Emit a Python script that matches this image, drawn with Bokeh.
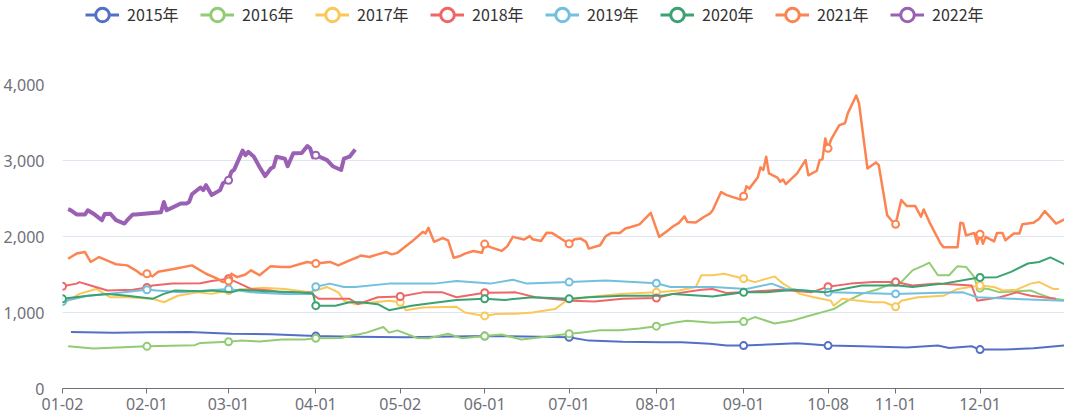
import datetime
from bokeh.plotting import figure
from bokeh.layouts import column
from bokeh.models import (Range1d, FixedTicker, NumeralTickFormatter, Legend,
                          LegendItem, ColumnDataSource)
from bokeh.embed import file_html
from bokeh.resources import INLINE

# ---------------- categories (MM-DD of the union of trading days) -------------
_d = datetime.date(2016, 1, 2)
CATEGORIES = []
while _d <= datetime.date(2016, 12, 31):
    _s = _d.strftime("%m-%d")
    if _s != "05-01" and not ("10-01" <= _s <= "10-07"):
        CATEGORIES.append(_s)
    _d += datetime.timedelta(days=1)
CAT_INDEX = {c: i for i, c in enumerate(CATEGORIES)}

TICK_LABELS = ["01-02", "02-01", "03-01", "04-01", "05-02", "06-01",
               "07-01", "08-01", "09-01", "10-08", "11-01", "12-01"]

YEARS = ["2015年", "2016年", "2017年", "2018年", "2019年", "2020年", "2021年", "2022年"]
COLORS = ["#5470c6", "#91cc75", "#fac858", "#ee6666", "#73c0de", "#3ba272", "#fc8452", "#9a60b4"]

# ---------------- series data ----------------
s2015_dates = ["01-05", "01-20", "02-02", "02-16", "03-02", "03-16", "04-01", "04-15", "05-04",
               "06-01", "06-15", "07-01", "07-08", "07-20", "08-03", "08-10", "08-20", "08-26",
               "09-01", "09-20", "10-08", "10-20", "11-05", "11-16", "11-20", "11-28", "12-01",
               "12-10", "12-20", "12-31"]
s2015_vals = [745, 735, 740, 745, 720, 715, 690, 680, 675,
              690, 685, 675, 630, 615, 610, 610, 590, 565,
              565, 595, 565, 555, 540, 565, 533, 556, 512,
              512, 530, 565]

s2016_dates = ["01-04", "01-13", "02-01", "02-18", "02-20", "03-01", "03-05", "03-12", "03-20",
               "03-28", "04-01", "04-10", "04-14", "04-16", "04-19", "04-25", "04-27", "04-30",
               "05-08", "05-12", "05-19", "05-24", "06-01", "06-07", "06-14", "06-21", "07-01",
               "07-05", "07-12", "07-19", "07-26", "08-01", "08-07", "08-12", "08-21", "09-01",
               "09-05", "09-12", "09-18", "09-24", "09-30", "10-10", "10-15", "10-20", "10-26",
               "11-01", "11-03", "11-07", "11-11", "11-13", "11-16", "11-20", "11-23", "11-26",
               "11-29", "11-30", "12-01", "12-04", "12-08", "12-19", "12-22", "12-27", "12-31"]
s2016_vals = [555, 525, 555, 570, 600, 615, 630, 620, 645,
              645, 660, 665, 700, 710, 735, 810, 735, 765,
              665, 660, 720, 660, 690, 710, 645, 675, 720,
              735, 765, 765, 790, 820, 865, 890, 865, 880,
              940, 855, 890, 955, 1015, 1045, 1155, 1245, 1310,
              1400, 1400, 1555, 1620, 1655, 1490, 1490, 1610, 1600,
              1465, 1335, 1320, 1310, 1265, 1290, 1245, 1180, 1165]

s2017_dates = ["01-03", "01-08", "01-14", "01-19", "01-25", "02-03", "02-07", "02-12", "02-19",
               "02-24", "03-01", "03-13", "03-21", "03-30", "04-05", "04-09", "04-11", "04-15",
               "04-27", "05-02", "05-04", "05-10", "05-22", "05-25", "06-01", "06-05", "06-12",
               "06-18", "06-26", "06-30", "07-07", "07-19", "08-01", "08-09", "08-15", "08-17",
               "08-21", "08-25", "08-30", "09-01", "09-05", "09-12", "09-15", "09-21", "09-26",
               "10-09", "10-10", "10-13", "10-19", "10-24", "10-28", "11-01", "11-03", "11-09",
               "11-18", "11-23", "12-01", "12-06", "12-09", "12-14", "12-19", "12-22", "12-27",
               "12-29"]
s2017_vals = [1135, 1245, 1310, 1200, 1200, 1180, 1135, 1220, 1265,
              1245, 1290, 1325, 1310, 1265, 1335, 1265, 1155, 1110,
              1155, 1135, 1030, 1065, 1075, 1000, 955, 980, 985,
              1000, 1045, 1155, 1200, 1245, 1265, 1290, 1335, 1490,
              1490, 1510, 1465, 1445, 1400, 1475, 1380, 1245, 1200,
              1155, 1090, 1180, 1155, 1135, 1135, 1075, 1155, 1200,
              1220, 1310, 1355, 1335, 1290, 1300, 1380, 1400, 1310,
              1310]

s2018_dates = ["01-02", "01-07", "01-08", "01-12", "01-18", "01-27", "02-01", "02-03", "02-10",
               "02-20", "02-24", "03-01", "03-05", "03-09", "03-16", "03-23", "03-30", "04-02",
               "04-13", "04-16", "04-23", "05-02", "05-10", "05-17", "05-22", "06-01", "06-12",
               "06-19", "07-02", "07-10", "07-20", "08-01", "08-07", "08-17", "08-21", "08-26",
               "08-31", "09-14", "09-25", "10-08", "10-16", "10-24", "11-01", "11-07", "11-16",
               "11-28", "11-30", "12-08", "12-14", "12-19", "12-28"]
s2018_vals = [1345, 1380, 1400, 1355, 1290, 1300, 1330, 1355, 1380,
              1385, 1415, 1445, 1380, 1310, 1290, 1245, 1265, 1180,
              1180, 1110, 1200, 1210, 1265, 1265, 1200, 1260, 1265,
              1200, 1155, 1145, 1180, 1190, 1245, 1300, 1310, 1255,
              1265, 1300, 1265, 1340, 1380, 1400, 1400, 1355, 1380,
              1355, 1155, 1200, 1265, 1220, 1180]

s2019_dates = ["01-02", "01-11", "01-18", "02-01", "02-13", "03-01", "03-09", "03-21", "03-30",
               "04-01", "04-06", "04-11", "04-15", "04-27", "05-14", "05-22", "06-03", "06-11",
               "06-16", "07-01", "07-14", "08-01", "08-06", "08-21", "09-02", "09-11", "09-16",
               "10-08", "10-20", "11-01", "11-13", "11-25", "11-30", "12-12", "12-31"]
s2019_vals = [1145, 1220, 1245, 1300, 1265, 1310, 1265, 1245, 1245,
              1340, 1380, 1335, 1335, 1380, 1380, 1415, 1380, 1430,
              1380, 1400, 1420, 1385, 1335, 1335, 1310, 1380, 1310,
              1265, 1255, 1245, 1255, 1265, 1200, 1180, 1155]

s2020_dates = ["01-02", "01-11", "01-18", "01-25", "02-03", "02-07", "02-11", "02-20", "02-24",
               "03-02", "03-05", "03-14", "03-26", "03-31", "04-01", "04-08", "04-13", "04-17",
               "04-23", "04-27", "05-06", "05-10", "05-22", "06-01", "06-08", "06-18", "07-01",
               "07-08", "07-20", "08-03", "08-07", "08-21", "09-01", "09-09", "09-19", "09-30",
               "10-20", "11-02", "11-07", "11-18", "11-28", "12-01", "12-07", "12-12", "12-18",
               "12-22", "12-26", "12-28", "12-31"]
s2020_vals = [1180, 1220, 1245, 1220, 1180, 1245, 1290, 1280, 1290,
              1265, 1300, 1280, 1265, 1250, 1090, 1090, 1135, 1135,
              1110, 1030, 1090, 1110, 1165, 1180, 1165, 1200, 1180,
              1200, 1220, 1220, 1245, 1210, 1265, 1265, 1300, 1265,
              1355, 1355, 1335, 1380, 1445, 1460, 1465, 1535, 1645,
              1665, 1725, 1690, 1635]

s2021_dates = ["01-04", "01-05", "01-07", "01-10", "01-12", "01-15", "01-19", "01-21", "01-25",
               "01-28", "01-30", "02-01", "02-03", "02-05", "02-11", "02-17", "02-22", "02-26",
               "02-28", "03-01", "03-02", "03-04", "03-07", "03-09", "03-12", "03-16", "03-20",
               "03-23", "03-27", "03-29", "04-01", "04-06", "04-09", "04-13", "04-16", "04-17",
               "04-20", "04-23", "04-26", "04-28", "04-30", "05-06", "05-10", "05-11", "05-12",
               "05-14", "05-17", "05-19", "05-21", "05-23", "05-25", "05-28", "05-31", "06-01",
               "06-03", "06-07", "06-09", "06-11", "06-15", "06-17", "06-18", "06-21", "06-23",
               "06-25", "06-29", "07-01", "07-03", "07-05", "07-07", "07-08", "07-12", "07-14",
               "07-16", "07-19", "07-21", "07-23", "07-26", "07-30", "08-02", "08-05", "08-07",
               "08-09", "08-11", "08-12", "08-15", "08-17", "08-18", "08-20", "08-21", "08-24",
               "08-26", "08-31", "09-01", "09-02", "09-03", "09-06", "09-07", "09-08", "09-09",
               "09-10", "09-13", "09-14", "09-15", "09-16", "09-20", "09-23", "09-24", "09-27",
               "09-28", "09-29", "09-30", "10-08", "10-09", "10-12", "10-14", "10-15", "10-18",
               "10-19", "10-22", "10-25", "10-26", "10-29", "10-31", "11-01", "11-03", "11-05",
               "11-08", "11-10", "11-11", "11-13", "11-17", "11-18", "11-23", "11-24", "11-25",
               "11-26", "11-29", "11-30", "12-01", "12-02", "12-03", "12-06", "12-07", "12-09",
               "12-10", "12-13", "12-15", "12-16", "12-20", "12-22", "12-24", "12-28", "12-31"]
s2021_vals = [1710, 1730, 1775, 1795, 1665, 1730, 1665, 1635, 1620,
              1555, 1500, 1510, 1475, 1535, 1575, 1620, 1510, 1445,
              1400, 1415, 1510, 1465, 1500, 1555, 1490, 1610, 1600,
              1600, 1645, 1665, 1645, 1665, 1620, 1685, 1730, 1750,
              1730, 1765, 1795, 1765, 1785, 1930, 2060, 2040, 2115,
              1930, 1980, 1950, 1720, 1740, 1775, 1810, 1785, 1900,
              1860, 1810, 1870, 1995, 1960, 2005, 1965, 1940, 2050,
              2045, 1950, 1905, 1965, 1975, 1930, 1840, 1885, 2005,
              2045, 2045, 2105, 2125, 2160, 2310, 1995, 2075, 2135,
              2180, 2265, 2190, 2185, 2235, 2260, 2300, 2345, 2585,
              2545, 2485, 2530, 2660, 2630, 2775, 2910, 2875, 3050,
              2830, 2775, 2720, 2750, 2690, 2830, 3005, 2805, 2865,
              3005, 3015, 3290, 3160, 3270, 3465, 3490, 3620, 3855,
              3750, 2895, 2975, 2940, 2280, 2190, 2160, 2480, 2400,
              2400, 2260, 2355, 2190, 1905, 1860, 1860, 2180, 2170,
              2015, 2045, 1905, 2030, 1905, 1995, 1935, 2045, 2045,
              1950, 2040, 2040, 2160, 2180, 2235, 2335, 2170, 2225]

s2022_dates = ["01-04", "01-05", "01-07", "01-10", "01-11", "01-13", "01-16", "01-17", "01-19",
               "01-21", "01-24", "01-25", "01-27", "01-28", "02-06", "02-07", "02-08", "02-10",
               "02-13", "02-15", "02-16", "02-17", "02-20", "02-21", "02-22", "02-24", "02-27",
               "02-28", "03-01", "03-02", "03-03", "03-06", "03-07", "03-08", "03-10", "03-12",
               "03-14", "03-16", "03-17", "03-18", "03-21", "03-22", "03-24", "03-27", "03-29",
               "03-30", "03-31", "04-01", "04-05", "04-07", "04-10", "04-11", "04-13", "04-15"]
s2022_vals = [2360, 2345, 2290, 2290, 2345, 2300, 2215, 2295, 2300,
              2215, 2170, 2215, 2290, 2290, 2320, 2455, 2345, 2380,
              2435, 2435, 2455, 2555, 2645, 2610, 2675, 2545, 2610,
              2700, 2740, 2850, 2880, 3130, 3070, 3115, 3050, 2915,
              2795, 2895, 2915, 3050, 3025, 2925, 3095, 3100, 3190,
              3160, 3040, 3070, 3005, 2925, 2875, 3025, 3050, 3145]

SERIES = [
    (s2015_dates, s2015_vals), (s2016_dates, s2016_vals), (s2017_dates, s2017_vals),
    (s2018_dates, s2018_vals), (s2019_dates, s2019_vals), (s2020_dates, s2020_vals),
    (s2021_dates, s2021_vals), (s2022_dates, s2022_vals),
]
LINE_WIDTHS = [2, 2, 2, 2, 2, 2, 2.5, 4]

AXIS_COLOR = "#6E7079"
GRID_COLOR = "#E0E6F1"
FONT = "Noto Sans"
LEG_H = 28
BOTTOM = 31

# ---------------- main chart ----------------
fig = figure(width=1064, height=(388 - LEG_H) + BOTTOM, output_backend="svg",
             toolbar_location=None,
             x_range=Range1d(0, len(CATEGORIES) - 1), y_range=Range1d(0, 4000),
             min_border_left=54, min_border_right=0, min_border_top=84 - LEG_H,
             min_border_bottom=BOTTOM)
fig.outline_line_color = None
fig.background_fill_color = "white"
fig.border_fill_color = "white"

tick_idx = [CAT_INDEX[t] for t in TICK_LABELS]
fig.xaxis.ticker = FixedTicker(ticks=tick_idx)
fig.xaxis.major_label_overrides = {CAT_INDEX[t]: t for t in TICK_LABELS}
fig.xaxis.axis_line_color = AXIS_COLOR
fig.xaxis.major_tick_line_color = AXIS_COLOR
fig.xaxis.major_tick_out = 5
fig.xaxis.major_tick_in = 0
fig.xaxis.minor_tick_line_color = None
fig.xaxis.major_label_standoff = 4
fig.xaxis.major_label_text_color = AXIS_COLOR
fig.xaxis.major_label_text_font = FONT
fig.xaxis.major_label_text_font_size = "16px"

fig.yaxis.ticker = FixedTicker(ticks=[0, 1000, 2000, 3000, 4000])
fig.yaxis.formatter = NumeralTickFormatter(format="0,0")
fig.yaxis.axis_line_color = None
fig.yaxis.major_tick_line_color = None
fig.yaxis.minor_tick_line_color = None
fig.yaxis.major_label_standoff = 12
fig.yaxis.major_label_text_color = AXIS_COLOR
fig.yaxis.major_label_text_font = FONT
fig.yaxis.major_label_text_font_size = "16px"

fig.xgrid.grid_line_color = None
fig.ygrid.grid_line_color = GRID_COLOR
fig.ygrid.grid_line_width = 1

# ---------------- legend strip (same side borders as the chart) ----------------
leg = figure(width=1064, height=LEG_H, output_backend="svg", toolbar_location=None,
             x_axis_location=None, y_axis_location=None,
             x_range=Range1d(0, 1), y_range=Range1d(0, 1),
             min_border_left=54, min_border_right=0, min_border_top=0, min_border_bottom=0)
leg.outline_line_color = None
leg.grid.grid_line_color = None

NAN = float("nan")
legend_items = []
for (dates, vals), name, color, lw in zip(SERIES, YEARS, COLORS, LINE_WIDTHS):
    xs = [CAT_INDEX[d] for d in dates]
    src = ColumnDataSource(dict(x=xs, y=vals))
    fig.line("x", "y", source=src, line_color=color, line_width=lw, line_join="round")
    mk = [(CAT_INDEX[d], v) for d, v in zip(dates, vals) if d in TICK_LABELS]
    msrc = ColumnDataSource(dict(x=[m[0] for m in mk], y=[m[1] for m in mk]))
    fig.scatter("x", "y", source=msrc, marker="circle", size=7, line_color=color,
                line_width=2, fill_color="white")
    # legend-only renderers (no visible data)
    hidden = ColumnDataSource(dict(x=[NAN], y=[NAN]))
    lr = leg.line("x", "y", source=hidden, line_color=color, line_width=3)
    sr = leg.scatter("x", "y", source=hidden, marker="circle", size=14, line_color=color,
                     line_width=3, fill_color="white")
    legend_items.append(LegendItem(label=name, renderers=[lr, sr]))

legend = Legend(items=legend_items, orientation="horizontal", location=(23, -3.5),
                glyph_width=34, glyph_height=35, label_standoff=8, label_width=55,
                spacing=18, padding=0, margin=0, border_line_color=None,
                background_fill_alpha=0, label_text_font="Noto Sans CJK SC",
                label_text_font_size="16px", label_text_color="#333333")
leg.add_layout(legend, "center")

p = column(leg, fig, spacing=0)
open("out.html", "w").write(file_html(p, INLINE))
